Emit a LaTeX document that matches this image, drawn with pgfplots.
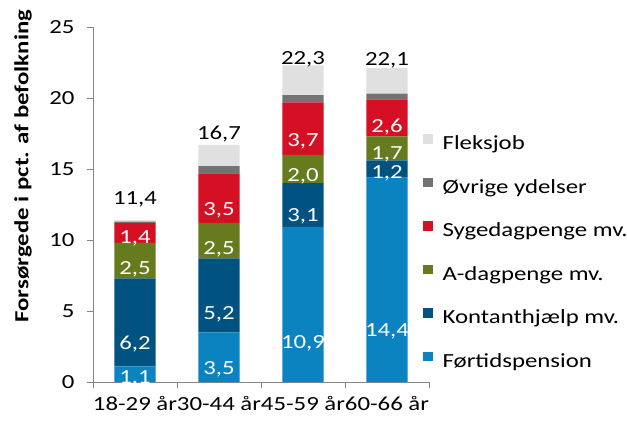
\documentclass[border=0pt]{standalone}
\usepackage{pgfplots}
\usepackage{pgfplotstable}
\pgfplotsset{compat=1.18}
\usepackage{fontspec}
\setmainfont{Carlito}[FakeStretch=1.24]
\definecolor{cFor}{RGB}{10,131,192}
\definecolor{cKon}{RGB}{0,83,128}
\definecolor{cAdag}{RGB}{102,122,30}
\definecolor{cSyg}{RGB}{214,16,36}
\definecolor{cOvr}{RGB}{115,115,115}
\definecolor{cFlex}{RGB}{224,224,224}
\definecolor{axgray}{RGB}{134,134,134}
\pgfplotstableread{
x for kon adag syg ovr flex tot
0 1.1 6.2 2.5 1.4 0.1 0.1 11.4
1 3.5 5.2 2.5 3.5 0.5 1.5 16.7
2 10.9 3.1 2.0 3.7 0.5 2.1 22.3
3 14.4 1.2 1.7 2.6 0.4 1.8 22.1
}\datatable
\newcommand{\fs}{\fontsize{20bp}{24bp}\selectfont}
\pgfplotsset{
  vallabel/.style={
    point meta=\thisrow{#1},
    visualization depends on={\thisrow{#1} \as \rawv},
    nodes near coords={\pgfmathprintnumber[fixed,fixed zerofill,precision=1,use comma,assume math mode=true]{\pgfplotspointmeta}},
    every node near coord/.append style={font=\fs, text=white, anchor=center, inner sep=0pt,
      shift={(axis direction cs:0,-\rawv/4)}},
  }
}
\begin{document}
\begin{tikzpicture}[font=\fs]
\useasboundingbox (-93bp,-39bp) rectangle (534bp,382bp);
\begin{axis}[
  at={(0,0)}, anchor=south west,
  width=336bp, height=355bp, scale only axis,
  ybar stacked, bar width=0.49,
  xmin=-0.5, xmax=3.5, ymin=0, ymax=25,
  clip=false,
  /pgf/number format/assume math mode=true,
  axis x line*=bottom, axis y line*=left,
  axis line style={draw=axgray, line width=0.8bp},
  tick align=outside, major tick length=6bp,
  xtick={0,1,2,3},
  xticklabels={18-29 år,30-44 år,45-59 år,60-66 år},
  major x tick style={draw=none},
  extra x ticks={-0.5,0.5,1.5,2.5,3.5},
  extra x tick labels={},
  extra x tick style={major x tick style={draw=axgray, line width=0.8bp}},
  ytick={0,5,10,15,20,25},
  major y tick style={draw=axgray, line width=0.8bp},
  xticklabel style={font=\fs, text=black, yshift=-5bp},
  yticklabel style={font=\fs, text=black, xshift=-9bp},
  ylabel={Forsørgede i pct. af befolkning},
  ylabel style={font=\fontsize{20bp}{24bp}\selectfont\bfseries, at={(axis description cs:-0.208,0.608)}, anchor=center},
  reverse legend,
  legend cell align=left,
  legend image code/.code={\fill[#1] (0bp,1.5bp) rectangle (9.5bp,11bp);},
  legend style={at={(0.982,0.699)}, anchor=north west, draw=none, fill=none, inner sep=0pt,
    row sep=23bp, font=\fs,
    nodes={inner sep=0pt, text height=14bp, text depth=5bp},
    /tikz/every odd column/.append style={column sep=10bp}},
]
\addplot[fill=cFor, draw=none, vallabel=for] table[x=x,y=for]{\datatable};
\addlegendentry{Førtidspension}
\addplot[fill=cKon, draw=none, vallabel=kon] table[x=x,y=kon]{\datatable};
\addlegendentry{Kontanthjælp mv.}
\addplot[fill=cAdag, draw=none, vallabel=adag] table[x=x,y=adag]{\datatable};
\addlegendentry{A-dagpenge mv.}
\addplot[fill=cSyg, draw=none, vallabel=syg] table[x=x,y=syg]{\datatable};
\addlegendentry{Sygedagpenge mv.}
\addplot[fill=cOvr, draw=none] table[x=x,y=ovr]{\datatable};
\addlegendentry{Øvrige ydelser}
\addplot[fill=cFlex, draw=none,
  point meta=\thisrow{tot},
  nodes near coords={\pgfmathprintnumber[fixed,fixed zerofill,precision=1,use comma,assume math mode=true]{\pgfplotspointmeta}},
  every node near coord/.append style={font=\fs, text=black, anchor=center, inner sep=0pt, yshift=21bp}
  ] table[x=x,y=flex]{\datatable};
\addlegendentry{Fleksjob}
\end{axis}
\end{tikzpicture}
\end{document}
